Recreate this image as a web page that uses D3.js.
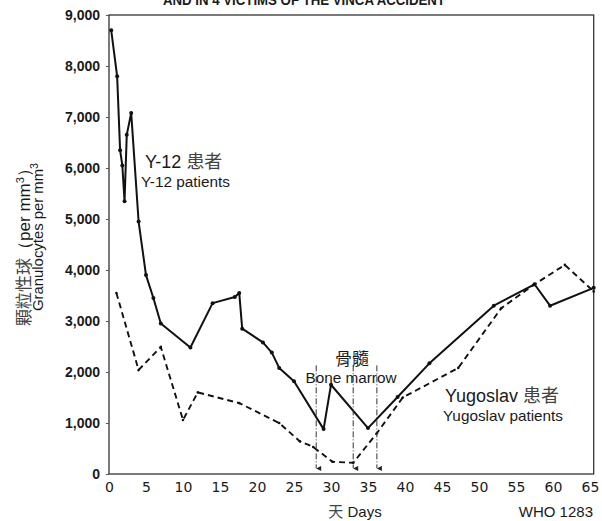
<!DOCTYPE html>
<html>
<head>
<meta charset="utf-8">
<script src="https://cdn.jsdelivr.net/npm/d3@7/dist/d3.min.js"></script>
<style>
  html, body { margin: 0; padding: 0; background: #fff; }
  svg { display: block; }
  text { font-family: "Liberation Sans", Arial, sans-serif; fill: #1a1a1a; }
</style>
</head>
<body>
<div id="chart"></div>
<script>
// Granulocyte counts (per mm³) against days after exposure
const y12Days   = [0.3, 1.1, 1.5, 1.8, 2.1, 2.4, 3.0, 4.0, 5.0, 6.0, 7.0, 11.0, 14.0, 17.0, 17.6, 18.0, 20.8, 22.0, 23.0, 25.0, 29.0, 30.0, 35.0, 39.0, 43.3, 52.0, 57.5, 59.6, 65.5];
const y12Values = [8700, 7800, 6350, 6050, 5350, 6650, 7080, 4950, 3900, 3450, 2950, 2480, 3350, 3470, 3550, 2850, 2580, 2380, 2080, 1820, 880, 1750, 900, 1510, 2170, 3300, 3720, 3300, 3650];

const yugoDays   = [1.0, 4.0, 7.0, 10.0, 12.0, 17.6, 23.0, 25.8, 27.6, 30.2, 33.0, 36.2, 39.7, 47.2, 53.0, 57.3, 61.6, 65.5];
const yugoValues = [3550, 2040, 2490, 1060, 1600, 1390, 1000, 640, 530, 240, 220, 800, 1500, 2080, 3250, 3700, 4100, 3580];

// Days on which bone marrow was transplanted
const marrowDays = [28, 33, 36.2];

const xTicks = [0, 5, 10, 15, 20, 25, 30, 35, 40, 45, 50, 55, 60, 65];
const yTicks = [0, 1000, 2000, 3000, 4000, 5000, 6000, 7000, 8000, 9000];

const W = 602, H = 521;
const svg = d3.select("#chart").append("svg").attr("width", W).attr("height", H);

const x = d3.scaleLinear().domain([0, 65]).range([109, 590]);
const y = d3.scaleLinear().domain([0, 9000]).range([474, 15]);

const cjk = "'Noto Sans CJK TC','Noto Sans CJK SC',sans-serif";

// Title (partly outside the top edge)
svg.append("text")
  .attr("x", 304).attr("y", 5)
  .attr("text-anchor", "middle")
  .style("font-size", "14px").style("font-weight", "bold")
  .attr("textLength", 282).attr("lengthAdjust", "spacingAndGlyphs")
  .text("AND IN 4 VICTIMS OF THE VINCA ACCIDENT");

// Plot frame
svg.append("rect")
  .attr("x", x(0)).attr("y", y(9000))
  .attr("width", x(65.5) - x(0)).attr("height", y(0) - y(9000))
  .attr("fill", "none").attr("stroke", "#333").attr("stroke-width", 1.3);

// Axes
const xAxis = svg.append("g").attr("transform", `translate(0,${y(0)})`)
  .call(d3.axisBottom(x).tickValues(xTicks).tickSize(0).tickPadding(8).tickFormat(d3.format("d")));
xAxis.select(".domain").remove();
xAxis.selectAll("text").style("font-size", "14px").style("font-family", "'DejaVu Sans', sans-serif").style("font-weight", "normal").attr("fill", "#222");

const yAxis = svg.append("g").attr("transform", `translate(${x(0)},0)`)
  .call(d3.axisLeft(y).tickValues(yTicks).tickSize(3).tickPadding(6).tickFormat(d => d === 0 ? "0" : d3.format(",")(d)));
yAxis.select(".domain").remove();
yAxis.selectAll("line").attr("stroke", "#555");
yAxis.selectAll("text").style("font-size", "14px").style("font-weight", "bold").attr("fill", "#222");

// Series lines
const line = d3.line().x(d => x(d[0])).y(d => y(d[1]));
const y12 = y12Days.map((d, i) => [d, y12Values[i]]);
const yugo = yugoDays.map((d, i) => [d, yugoValues[i]]);

svg.append("path").datum(yugo).attr("d", line)
  .attr("fill", "none").attr("stroke", "#111").attr("stroke-width", 1.9)
  .attr("stroke-dasharray", "6,4");
svg.selectAll(".yugoDot").data(yugo).enter().append("circle")
  .attr("cx", d => x(d[0])).attr("cy", d => y(d[1])).attr("r", 1.3).attr("fill", "#111");

svg.append("path").datum(y12).attr("d", line)
  .attr("fill", "none").attr("stroke", "#111").attr("stroke-width", 2)
  .attr("stroke-linejoin", "round");
svg.selectAll(".y12Dot").data(y12).enter().append("circle")
  .attr("cx", d => x(d[0])).attr("cy", d => y(d[1])).attr("r", 2).attr("fill", "#111");

// Bone marrow markers: dash-dot drop lines ending in arrowheads
const defs = svg.append("defs");
defs.append("marker").attr("id", "arrowDown")
  .attr("viewBox", "0 0 10 10").attr("refX", 5).attr("refY", 10)
  .attr("markerWidth", 5).attr("markerHeight", 6).attr("orient", "auto")
  .append("path").attr("d", "M0,0 L10,0 L5,10 Z").attr("fill", "#222");

svg.selectAll(".marrow").data(marrowDays).enter().append("line")
  .attr("x1", d => x(d)).attr("x2", d => x(d))
  .attr("y1", y(2130)).attr("y2", y(110))
  .attr("stroke", "#333").attr("stroke-width", 1)
  .attr("stroke-dasharray", "6,2,1,2")
  .attr("marker-end", "url(#arrowDown)");

svg.append("text").attr("x", 352).attr("y", 365).attr("text-anchor", "middle")
  .style("font-size", "17px").style("font-family", cjk)
  .text("骨髓");
svg.append("text").attr("x", 351).attr("y", 383).attr("text-anchor", "middle")
  .style("font-size", "14px").attr("textLength", 91).attr("lengthAdjust", "spacingAndGlyphs")
  .text("Bone marrow");

// Series labels
svg.append("text").attr("x", 145).attr("y", 168)
  .style("font-size", "18px")
  .html(`Y-12 <tspan style="font-family:${cjk};fill:#444">患者</tspan>`);
svg.append("text").attr("x", 141).attr("y", 187)
  .style("font-size", "14px").attr("textLength", 89).attr("lengthAdjust", "spacingAndGlyphs")
  .text("Y-12 patients");

svg.append("text").attr("x", 445).attr("y", 402)
  .style("font-size", "18px")
  .html(`Yugoslav <tspan style="font-family:${cjk};fill:#444">患者</tspan>`);
svg.append("text").attr("x", 443).attr("y", 421)
  .style("font-size", "15px").attr("textLength", 120).attr("lengthAdjust", "spacingAndGlyphs")
  .text("Yugoslav patients");

// Y axis title (two rotated lines)
svg.append("text")
  .attr("transform", "translate(30,243) rotate(-90)")
  .attr("text-anchor", "middle")
  .style("font-size", "17px")
  .html(`<tspan style="font-family:${cjk};fill:#444">顆粒性球</tspan>（per mm<tspan dy="-6" style="font-size:11px">3</tspan><tspan dy="6">）</tspan>`);
svg.append("text")
  .attr("transform", "translate(43,237) rotate(-90)")
  .attr("text-anchor", "middle")
  .style("font-size", "14px")
  .attr("textLength", 148).attr("lengthAdjust", "spacingAndGlyphs")
  .html('Granulocytes per mm<tspan dy="-5" style="font-size:10px">3</tspan>');

// X axis title and figure code
svg.append("text").attr("x", 355).attr("y", 517).attr("text-anchor", "middle")
  .style("font-size", "15px")
  .html(`<tspan style="font-family:${cjk};fill:#444">天</tspan> Days`);
svg.append("text").attr("x", 593).attr("y", 517).attr("text-anchor", "end")
  .style("font-size", "15px")
  .text("WHO 1283");
</script>
</body>
</html>
